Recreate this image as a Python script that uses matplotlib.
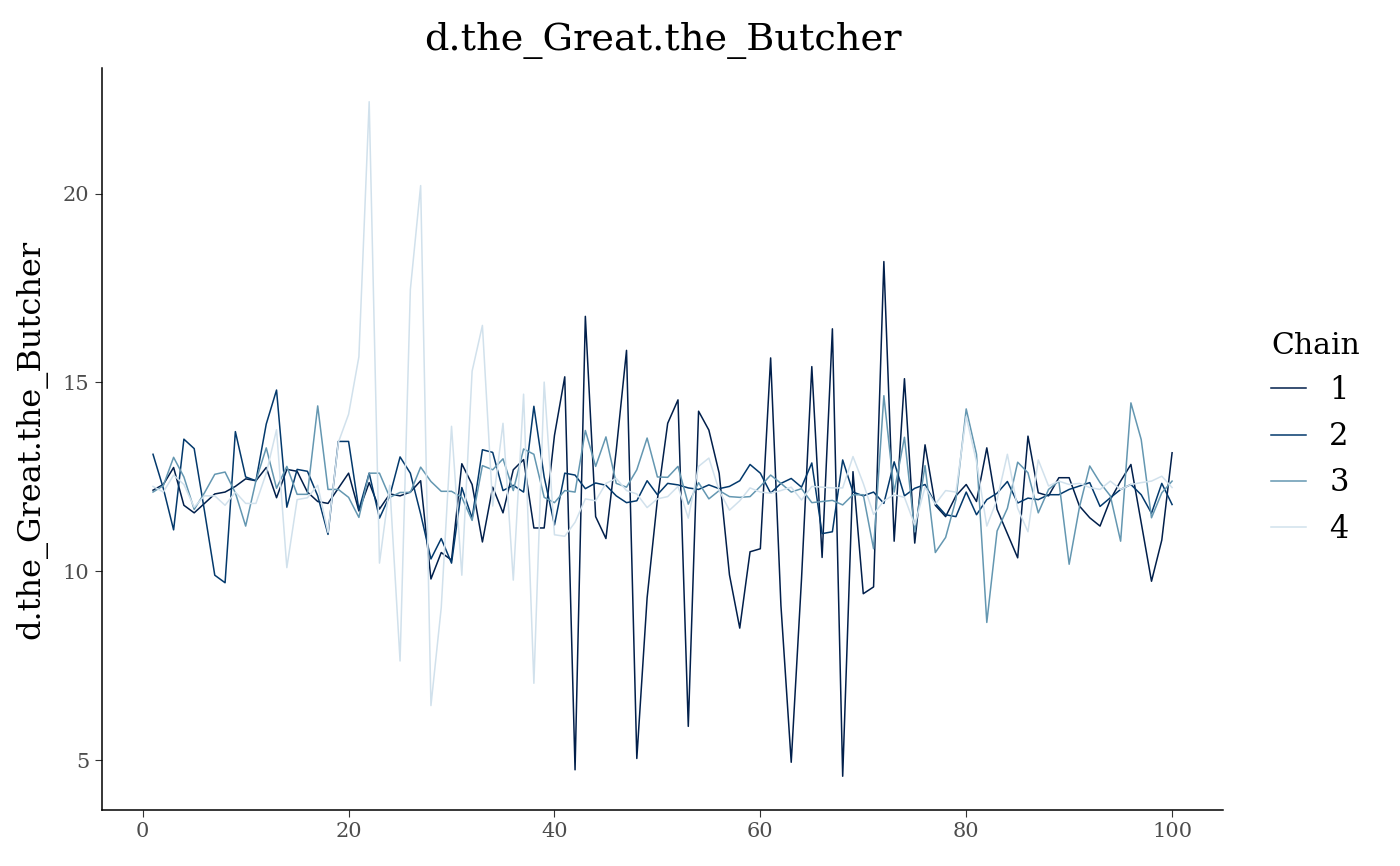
import numpy as np
import matplotlib
matplotlib.use("Agg")
import matplotlib.pyplot as plt

# trace values, one list per chain (iterations 1..100)
iterations = list(range(1, 101))

chain1 = [12.15, 12.3, 12.75, 11.75, 11.55, 11.8, 12.05, 12.1, 12.25, 12.45,
          12.4, 12.75, 11.95, 12.7, 12.65, 12.1, 11.85, 11.8, 12.2, 12.6,
          11.6, 12.35, 11.65, 12.05, 12.0, 12.1, 12.4, 9.8, 10.5, 10.3,
          12.85, 12.3, 10.78, 12.23, 11.55, 12.69, 12.96, 11.15, 11.15, 13.6,
          15.15, 4.75, 16.75, 11.45, 10.87, 13.2, 15.85, 5.05, 9.3, 11.9,
          13.92, 14.54, 5.9, 14.24, 13.74, 12.6, 9.91, 8.5, 10.52, 10.6,
          15.65, 9.1, 4.95, 9.8, 15.42, 10.37, 16.42, 4.58, 12.64, 9.41,
          9.59, 18.2, 10.8, 15.1, 10.75, 13.35, 11.75, 11.45, 12.0, 12.3,
          11.85, 13.27, 11.64, 11.0, 10.36, 13.58, 12.08, 12.0, 12.48, 12.48,
          11.73, 11.42, 11.2, 11.9, 12.39, 12.83, 11.29, 9.74, 10.83, 13.14]

chain2 = [13.1, 12.2, 11.1, 13.5, 13.25, 11.6, 9.9, 9.7, 13.7, 12.5,
          12.4, 13.9, 14.8, 11.7, 12.7, 12.65, 12.0, 10.98, 13.44, 13.44,
          11.63, 12.6, 11.41, 12.0, 13.03, 12.6, 11.52, 10.33, 10.87, 10.22,
          12.22, 11.41, 13.22, 13.15, 12.14, 12.28, 12.1, 14.37, 12.5, 11.23,
          12.6, 12.55, 12.19, 12.34, 12.28, 12.0, 11.82, 11.87, 12.4, 12.03,
          12.33, 12.29, 12.21, 12.17, 12.29, 12.19, 12.25, 12.4, 12.83, 12.6,
          12.07, 12.33, 12.46, 12.23, 12.87, 11.0, 11.05, 12.95, 12.1, 12.0,
          12.1, 11.8, 12.9, 12.0, 12.2, 12.3, 11.8, 11.5, 11.45, 12.1,
          11.5, 11.9, 12.07, 12.38, 11.81, 11.94, 11.9, 12.03, 12.03, 12.17,
          12.26, 12.35, 11.72, 11.95, 12.17, 12.3, 12.03, 11.54, 12.33, 11.77]

chain3 = [12.1, 12.27, 13.02, 12.5, 11.64, 12.08, 12.57, 12.63, 12.08, 11.2,
          12.4, 13.27, 12.2, 12.78, 12.04, 12.04, 14.38, 12.17, 12.17, 11.96,
          11.43, 12.6, 12.6, 11.96, 12.09, 12.09, 12.76, 12.38, 12.12, 12.12,
          11.96, 11.35, 12.8, 12.69, 12.98, 12.14, 13.24, 13.1, 11.96, 11.82,
          12.14, 12.1, 13.73, 12.78, 13.56, 12.33, 12.23, 12.69, 13.53, 12.5,
          12.49, 12.78, 11.78, 12.35, 11.92, 12.14, 11.98, 11.96, 11.98, 12.25,
          12.55, 12.33, 12.1, 12.19, 11.82, 11.85, 11.88, 11.76, 12.03, 12.03,
          10.6, 14.65, 12.1, 13.55, 11.05, 12.8, 10.5, 10.9, 11.9, 14.3,
          13.1, 8.65, 11.07, 11.67, 12.89, 12.61, 11.55, 12.17, 12.39, 10.19,
          11.7, 12.79, 12.35, 12.0, 10.8, 14.46, 13.49, 11.42, 12.08, 12.39]

chain4 = [12.25, 12.1, 12.55, 12.3, 11.7, 12.0, 12.0, 11.75, 12.1, 11.8,
          11.8, 12.6, 13.75, 10.1, 11.9, 11.95, 12.28, 11.03, 13.41, 14.16,
          15.68, 22.43, 10.22, 12.28, 7.63, 17.46, 20.21, 6.45, 9.04, 13.84,
          9.9, 15.3, 16.51, 11.73, 13.92, 9.77, 14.69, 7.04, 15.01, 10.97,
          10.93, 11.3, 11.92, 11.87, 12.33, 12.46, 12.14, 12.05, 11.69, 11.92,
          11.98, 12.25, 11.41, 12.78, 13.0, 12.14, 11.62, 11.87, 12.21, 12.1,
          12.07, 12.14, 12.23, 11.89, 12.25, 12.23, 12.21, 12.21, 13.04, 12.33,
          11.51, 11.87, 12.03, 11.96, 11.23, 12.23, 11.78, 12.14, 12.1, 14.1,
          12.9, 11.2, 11.9, 13.1, 11.67, 11.05, 12.95, 12.26, 12.39, 12.3,
          12.33, 12.22, 12.17, 12.39, 12.17, 12.3, 12.35, 12.39, 12.52, 12.22]

chain_labels = ["1", "2", "3", "4"]
chain_colors = ["#011f4b", "#03396c", "#6497b1", "#d1e1ec"]
param = "d.the_Great.the_Butcher"

plt.rcParams["font.family"] = ["DejaVu Serif"]

fig = plt.figure(figsize=(14, 8.66), dpi=100)
ax = fig.add_axes([0.0729, 0.0647, 0.8007, 0.8568])

chains = [chain1, chain2, chain3, chain4]
for vals, lab, col in zip(chains, chain_labels, chain_colors):
    ax.plot(iterations, vals, color=col, lw=1.1, label=lab)

# ggplot style 5% expansion
allv = np.concatenate([np.array(c) for c in chains])
lo, hi = allv.min(), allv.max()
pad = (hi - lo) * 0.05
ax.set_ylim(lo - pad, hi + pad)
xpad = (max(iterations) - min(iterations)) * 0.05
ax.set_xlim(min(iterations) - xpad, max(iterations) + xpad)

ax.set_xticks([0, 20, 40, 60, 80, 100])
ax.set_yticks([5, 10, 15, 20])
ax.tick_params(axis="both", direction="out", length=5, width=0.8,
               color="#333333", labelcolor="#4d4d4d", labelsize=15, pad=4)
for s in ["top", "right"]:
    ax.spines[s].set_visible(False)
for s in ["left", "bottom"]:
    ax.spines[s].set_linewidth(1.1)

ax.set_ylabel(param, fontsize=23, labelpad=11)
ax.set_title(param, fontsize=27.5, pad=13)

leg = fig.legend(title="Chain", loc="center left", bbox_to_anchor=(0.908, 0.494),
                 frameon=False, fontsize=22, title_fontsize=21.5,
                 handlelength=1.15, handletextpad=0.75, labelspacing=0.5,
                 borderpad=0, borderaxespad=0)
leg._legend_box.align = "left"

fig.savefig("out.png", dpi=100)
